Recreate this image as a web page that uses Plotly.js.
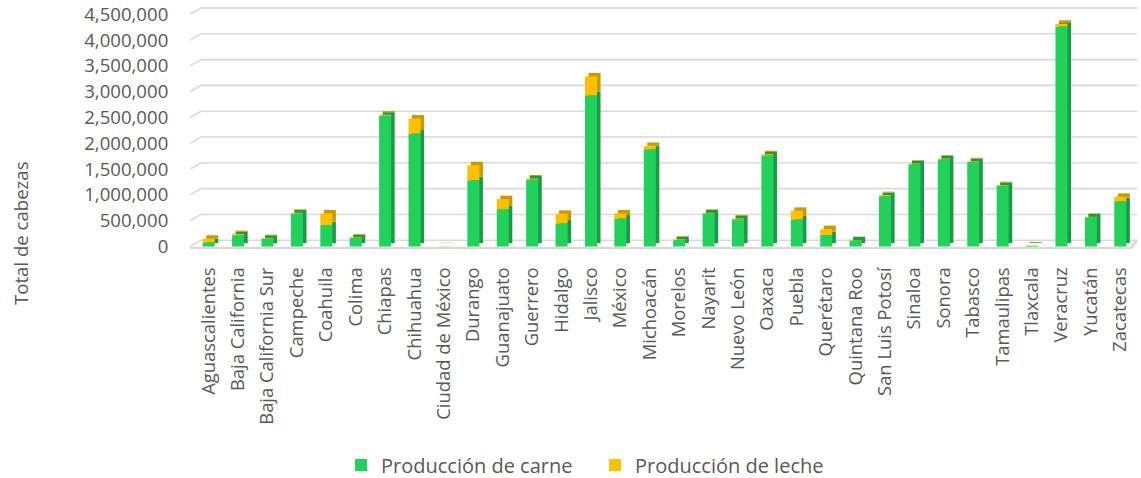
<!DOCTYPE html>
<html>
<head>
<meta charset="utf-8">
<script src="https://cdn.plot.ly/plotly-3.0.1.min.js"></script>
<style>html,body{margin:0;padding:0;background:#fff;overflow:hidden;}#wrap{width:1141px;height:478px;overflow:hidden;}#chart{width:1141px;height:500px;}</style>
</head>
<body>
<div id="wrap"><div id="chart"></div></div>
<script>
// ---- data ----
const estados = ["Aguascalientes","Baja California","Baja California Sur","Campeche","Coahuila","Colima","Chiapas","Chihuahua","Ciudad de México","Durango","Guanajuato","Guerrero","Hidalgo","Jalisco","México","Michoacán","Morelos","Nayarit","Nuevo León","Oaxaca","Puebla","Querétaro","Quintana Roo","San Luis Potosí","Sinaloa","Sonora","Tabasco","Tamaulipas","Tlaxcala","Veracruz","Yucatán","Zacatecas"];
const carne = [81000,217000,151000,640000,416000,164000,2537000,2190000,2000,1286000,725000,1300000,449000,2930000,545000,1886000,125000,642000,526000,1764000,526000,222000,118000,977000,1596000,1692000,1640000,1176000,15000,4265000,565000,880000];
const leche = [70000,25000,13000,14000,226000,14000,20000,290000,4000,290000,194000,19000,185000,368000,97000,64000,14000,12000,19000,25000,166000,116000,8000,19000,13000,14000,14000,14000,7000,52000,11000,83000];
const yTicks = [0,500000,1000000,1500000,2000000,2500000,3000000,3500000,4000000,4500000];
const seriesNames = ["Producción de carne","Producción de leche"];
const yTitle = "Total de cabezas";

// ---- style constants ----
const GREEN = "#21D15B", GREEN_SIDE = "#1A9A45";
const GOLD = "#FFC000", GOLD_SIDE = "#C99A00";
const TXT = "#595959";
const barW = 0.41, depthX = 0.12, depthY = 67000, gridShift = 122000;

const lecheBase = carne.map(v => v);
const shadowLecheBase = carne.map(v => v + depthY);

const common = {type: "bar", x: estados, width: barW, hoverinfo: "skip", marker: {line: {width: 0}}};
const traces = [
  Object.assign({}, common, {y: carne, base: depthY, offset: -barW/2 + depthX, marker: {color: GREEN_SIDE}, showlegend: false, name: "s1"}),
  Object.assign({}, common, {y: leche, base: shadowLecheBase, offset: -barW/2 + depthX, marker: {color: GOLD_SIDE}, showlegend: false, name: "s2"}),
  Object.assign({}, common, {y: carne, base: 0, offset: -barW/2, marker: {color: GREEN}, name: seriesNames[0]}),
  Object.assign({}, common, {y: leche, base: lecheBase, offset: -barW/2, marker: {color: GOLD}, name: seriesNames[1]})
];

// gridlines drawn on the back wall with a slanted side-wall segment
const px = p => (p - 194) / 941;
const shapes = yTicks.map(v => ({
  type: "path", xref: "paper", yref: "y", layer: "below",
  path: `M ${px(190)},${v} L ${px(201)},${v + gridShift} L ${px(1137)},${v + gridShift}`,
  line: {color: "#D9D9D9", width: 1.6}
}));
shapes.push({type: "path", xref: "paper", yref: "y", layer: "below",
  path: `M ${px(190)},-30000 L ${px(1131)},-30000 L ${px(1137)},${gridShift}`,
  line: {color: "#D9D9D9", width: 2.5}});

const H = 500;
const layout = {
  width: 1141, height: H,
  margin: {l: 194, r: 6, t: 6, b: H - 6 - 243, pad: 0},
  paper_bgcolor: "#fff", plot_bgcolor: "rgba(0,0,0,0)",
  barmode: "overlay",
  font: {family: "Open Sans, sans-serif", color: TXT, size: 18},
  xaxis: {
    type: "category", showgrid: false, zeroline: false, showline: false,
    tickangle: -90, ticks: "outside", ticklen: 10, tickcolor: "rgba(0,0,0,0)",
    tickfont: {size: 18.4, color: TXT}, automargin: false
  },
  yaxis: {
    range: [-48000, 4661000], tickvals: yTicks, tickformat: ",",
    showgrid: false, zeroline: false, showline: false,
    ticks: "outside", ticklen: 21, tickcolor: "rgba(0,0,0,0)",
    tickfont: {size: 18.6, color: TXT}, automargin: false
  },
  shapes: shapes,
  annotations: [{
    text: yTitle, xref: "paper", yref: "paper", x: px(20), y: (249 - 233) / 243,
    xanchor: "center", yanchor: "middle", textangle: -90, showarrow: false,
    font: {size: 18.6, color: TXT}
  }],
  legend: {
    orientation: "h", x: px(341), xanchor: "left", y: (249 - 465) / 243, yanchor: "middle",
    font: {size: 20, color: TXT}, entrywidth: 209, entrywidthmode: "pixels",
    traceorder: "normal", bgcolor: "rgba(0,0,0,0)"
  },
  showlegend: true
};

Plotly.newPlot("chart", traces, layout, {displayModeBar: false, staticPlot: true});
</script>
</body>
</html>
